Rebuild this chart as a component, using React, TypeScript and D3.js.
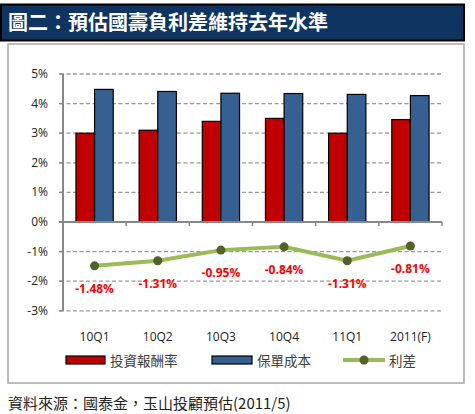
import React from "react";
import * as d3 from "d3";

const categories = ["10Q1", "10Q2", "10Q3", "10Q4", "11Q1", "2011(F)"];
const investReturn = [3.0, 3.1, 3.4, 3.5, 3.0, 3.46];
const policyCost = [4.48, 4.41, 4.35, 4.34, 4.31, 4.27];
const spread = [-1.48, -1.31, -0.95, -0.84, -1.31, -0.81];
const yTicks = [5, 4, 3, 2, 1, 0, -1, -2, -3];
const seriesNames = ["投資報酬率", "保單成本", "利差"];
const titleText = "圖二：預估國壽負利差維持去年水準";
const sourceText = "資料來源：國泰金，玉山投顧預估(2011/5)";

const RED = "#c00000";
const BLUE = "#376092";
const GREEN = "#9bbb59";
const DARKGREEN = "#4f6228";
const FONT = "'Open Sans', 'Noto Sans', sans-serif";
const CJK = "'Noto Sans CJK TC', 'Noto Sans CJK SC', sans-serif";

export default function App() {
  const W = 475, H = 414;
  const left = 63, right = 442, top = 74, bottom = 310.8;
  const x = d3.scaleBand<string>().domain(categories).range([left, right]).paddingInner(0.41).paddingOuter(0.205);
  const step = (right - left) / categories.length;
  const y = d3.scaleLinear().domain([-3, 5]).range([bottom, top]);
  const bw = x.bandwidth() / 2;
  const line = d3.line<number>().x((_, i) => (x(categories[i]) as number) + x.bandwidth() / 2).y((d) => y(d));

  return (
    <svg width={W} height={H} style={{ position: "absolute", left: 0, top: 0 }}>
      <rect x={0} y={0} width={W} height={H} fill="#fff" />
      {/* title bar */}
      <rect x={1} y={4.5} width={463} height={36} fill="#0f3462" stroke="#000" strokeWidth={2} />
      <text x={8} y={30} fill="#fff" fontFamily={CJK} fontWeight="bold" fontSize={20}>{titleText}</text>
      {/* frame */}
      <rect x={8} y={44} width={456} height={339} fill="#fff" stroke="#a6a6a6" strokeWidth={1.5} />
      {/* grid */}
      {yTicks.filter((t) => t !== 0).map((t) => (
        <line key={t} x1={60} x2={right} y1={y(t)} y2={y(t)} stroke="#999" strokeWidth={1.3} strokeDasharray="4,2.5" />
      ))}
      {/* y labels */}
      {yTicks.map((t) => (
        <text key={t} x={48} y={y(t) + 4} textAnchor="end" fontFamily={FONT} fontSize={12} fill="#222">{t}%</text>
      ))}
      {/* bars */}
      {categories.map((c, i) => (
        <g key={c}>
          <rect x={x(c)} y={y(investReturn[i])} width={bw} height={y(0) - y(investReturn[i])} fill={RED} stroke="#000" strokeWidth={1.2} />
          <rect x={(x(c) as number) + bw} y={y(policyCost[i])} width={bw} height={y(0) - y(policyCost[i])} fill={BLUE} stroke="#000" strokeWidth={1.2} />
        </g>
      ))}
      {/* axes */}
      <line x1={left} x2={left} y1={top} y2={bottom} stroke="#888" strokeWidth={2} />
      {yTicks.map((t) => (
        <line key={t} x1={59} x2={left} y1={y(t)} y2={y(t)} stroke="#888" strokeWidth={1.5} />
      ))}
      <line x1={59} x2={right} y1={y(0)} y2={y(0)} stroke="#888" strokeWidth={2} />
      {d3.range(1, categories.length + 1).map((k) => (
        <line key={k} x1={left + step * k} x2={left + step * k} y1={y(0)} y2={y(0) + 4} stroke="#888" strokeWidth={1.5} />
      ))}
      {/* spread line */}
      <path d={line(spread) || ""} fill="none" stroke={GREEN} strokeWidth={4} />
      {spread.map((v, i) => {
        const cx = (x(categories[i]) as number) + x.bandwidth() / 2;
        return (
          <g key={i}>
            <circle cx={cx} cy={y(v)} r={4.5} fill={DARKGREEN} />
            <text x={cx} y={y(v) + 27} textAnchor="middle" fontFamily={FONT} fontWeight="bold" fontSize={12} fill="#ff0000">{v.toFixed(2)}%</text>
          </g>
        );
      })}
      {/* x labels */}
      {categories.map((c) => (
        <text key={c} x={(x(c) as number) + x.bandwidth() / 2} y={341} textAnchor="middle" fontFamily={FONT} fontSize={12} fill="#222">{c}</text>
      ))}
      {/* legend */}
      <rect x={66} y={356} width={39} height={8} fill={RED} stroke="#000" strokeWidth={1.2} />
      <text x={110} y={366} fontFamily={CJK} fontSize={13.5} fill="#404040">{seriesNames[0]}</text>
      <rect x={212} y={356} width={40} height={8} fill={BLUE} stroke="#000" strokeWidth={1.2} />
      <text x={257} y={366} fontFamily={CJK} fontSize={13.5} fill="#404040">{seriesNames[1]}</text>
      <line x1={343} x2={385} y1={360} y2={360} stroke={GREEN} strokeWidth={4} />
      <circle cx={364} cy={360} r={4.5} fill={DARKGREEN} />
      <text x={389} y={366} fontFamily={CJK} fontSize={13.5} fill="#404040">{seriesNames[2]}</text>
      {/* source */}
      <text x={8} y={409} fontFamily={CJK} fontSize={15} fill="#222">{sourceText}</text>
    </svg>
  );
}
